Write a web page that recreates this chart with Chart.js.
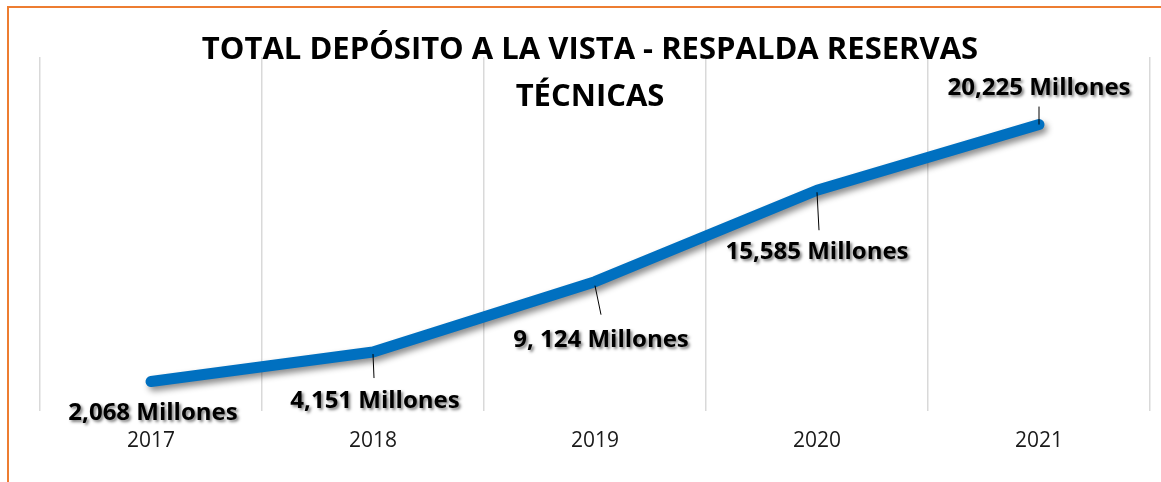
<!DOCTYPE html>
<html>
<head>
<meta charset="utf-8">
<script src="https://cdn.jsdelivr.net/npm/chart.js@4/dist/chart.umd.min.js"></script>
<style>
  html, body { margin: 0; padding: 0; background: #fff; }
  canvas { display: block; }
</style>
</head>
<body>
<canvas id="depositChart" width="1161" height="482"></canvas>
<script>
// Total depósito a la vista - respalda reservas técnicas (millones)
const years = ['2017', '2018', '2019', '2020', '2021'];
const deposits = [2068, 4151, 9124, 15585, 20225];
const depositLabels = ['2,068 Millones', '4,151 Millones', '9, 124 Millones', '15,585 Millones', '20,225 Millones'];
const titleLines = ['TOTAL DEPÓSITO A LA VISTA - RESPALDA RESERVAS', 'TÉCNICAS'];

const FONT = '"Open Sans", Lato, sans-serif';

// orange frame + title drawn over the plot
const framePlugin = {
    id: 'frame',
    beforeDraw(chart) {
        const ctx = chart.ctx;
        ctx.save();
        ctx.fillStyle = '#fff';
        ctx.fillRect(0, 0, chart.width, chart.height);
        ctx.strokeStyle = '#ED7D31';
        ctx.lineWidth = 2;
        ctx.strokeRect(8, 7, chart.width + 20, chart.height + 20);
        ctx.restore();
    },
    afterDraw(chart) {
        const ctx = chart.ctx;
        ctx.save();
        ctx.font = 'bold 31px ' + FONT;
        ctx.fillStyle = '#000';
        ctx.textAlign = 'center';
        ctx.textBaseline = 'middle';
        ctx.fillText(titleLines[0], 590, 50);
        ctx.fillText(titleLines[1], 590, 97);
        ctx.restore();
    }
};

// line shadow
const shadowPlugin = {
    id: 'lineShadow',
    beforeDatasetDraw(chart) {
        const ctx = chart.ctx;
        ctx.save();
        ctx.shadowColor = 'rgba(0,0,0,0.45)';
        ctx.shadowBlur = 6;
        ctx.shadowOffsetX = 3;
        ctx.shadowOffsetY = 4;
    },
    afterDatasetDraw(chart) {
        chart.ctx.restore();
    }
};

// value labels with leader lines
const valueLabelPlugin = {
    id: 'valueLabels',
    afterDatasetsDraw(chart, args, opts) {
        const ctx = chart.ctx;
        const meta = chart.getDatasetMeta(0);
        ctx.save();
        meta.data.forEach((pt, i) => {
            const off = opts.offsets[i];
            const lx = pt.x + off[0];
            const ly = pt.y + off[1];
            if (off[2]) {
                ctx.strokeStyle = '#000';
                ctx.lineWidth = 1;
                ctx.beginPath();
                ctx.moveTo(pt.x + off[2][0], pt.y + off[2][1]);
                ctx.lineTo(pt.x + off[2][2], pt.y + off[2][3]);
                ctx.stroke();
            }
            ctx.font = 'bold 24px ' + FONT;
            ctx.textAlign = 'center';
            ctx.textBaseline = 'middle';
            ctx.shadowColor = 'rgba(0,0,0,0.5)';
            ctx.shadowBlur = 3;
            ctx.shadowOffsetX = 2;
            ctx.shadowOffsetY = 2;
            ctx.fillStyle = '#000';
            ctx.fillText(depositLabels[i], lx, ly);
            ctx.shadowColor = 'transparent';
        });
        ctx.restore();
    }
};

new Chart(document.getElementById('depositChart'), {
    type: 'line',
    data: {
        labels: years,
        datasets: [{
            label: 'Depósito a la vista',
            data: deposits,
            borderColor: '#0070C0',
            borderWidth: 11,
            borderCapStyle: 'round',
            borderJoinStyle: 'round',
            pointRadius: 0,
            tension: 0,
            fill: false
        }]
    },
    options: {
        responsive: false,
        animation: false,
        layout: { padding: { left: 40, right: 11, top: 57, bottom: 10 } },
        plugins: {
            legend: { display: false },
            tooltip: { enabled: false },
            valueLabels: {
                offsets: [
                    [2, 32, null],
                    [2, 49, [0, 2, 1, 26]],
                    [6, 58, [0, 4, 6, 33]],
                    [0, 62, [0, 2, 2, 40]],
                    [0, -36, [0, -18, 0, 0]]
                ]
            }
        },
        scales: {
            x: {
                offset: true,
                grid: { offset: true, color: '#d9d9d9', lineWidth: 1.5, drawTicks: false },
                border: { display: false },
                ticks: { color: '#1a1a1a', padding: 18, font: { family: FONT, size: 21 } }
            },
            y: {
                display: false,
                min: 0,
                max: 25000
            }
        }
    },
    plugins: [framePlugin, shadowPlugin, valueLabelPlugin]
});
</script>
</body>
</html>
